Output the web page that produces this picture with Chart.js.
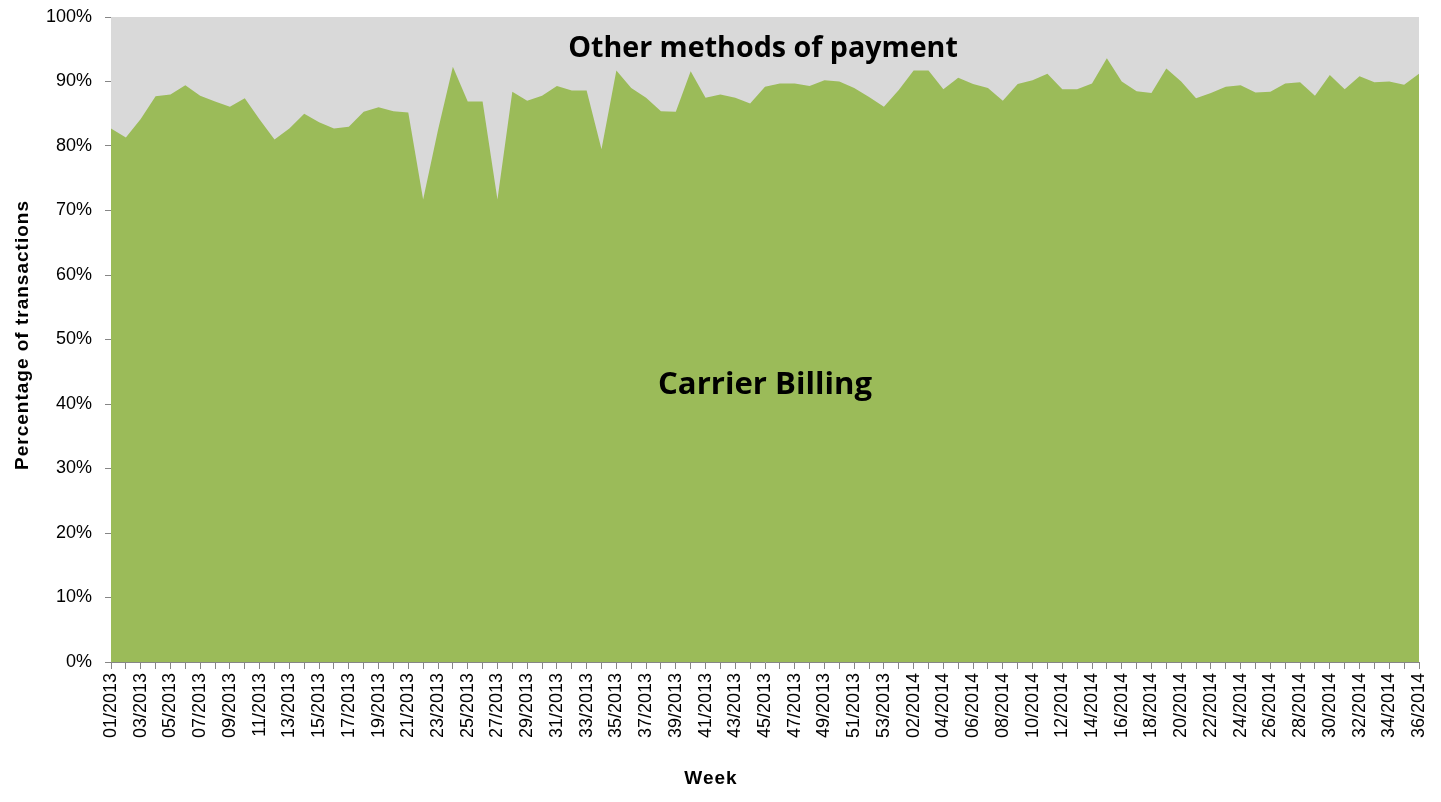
<!DOCTYPE html>
<html>
<head>
<meta charset="utf-8">
<script src="https://cdn.jsdelivr.net/npm/chart.js@4.4.1/dist/chart.umd.min.js"></script>
<style>
  html, body { margin: 0; padding: 0; background: #ffffff; }
  #wrap { width: 1441px; height: 802px; position: relative; }
  canvas { display: block; }
</style>
</head>
<body>
<div id="wrap"><canvas id="c" width="1441" height="802"></canvas></div>
<script>
// ---- Data ----
const weeks = [
  "01/2013","02/2013","03/2013","04/2013","05/2013","06/2013","07/2013","08/2013","09/2013","10/2013",
  "11/2013","12/2013","13/2013","14/2013","15/2013","16/2013","17/2013","18/2013","19/2013","20/2013",
  "21/2013","22/2013","23/2013","24/2013","25/2013","26/2013","27/2013","28/2013","29/2013","30/2013",
  "31/2013","32/2013","33/2013","34/2013","35/2013","36/2013","37/2013","38/2013","39/2013","40/2013",
  "41/2013","42/2013","43/2013","44/2013","45/2013","46/2013","47/2013","48/2013","49/2013","50/2013",
  "51/2013","52/2013","53/2013",
  "01/2014","02/2014","03/2014","04/2014","05/2014","06/2014","07/2014","08/2014","09/2014","10/2014",
  "11/2014","12/2014","13/2014","14/2014","15/2014","16/2014","17/2014","18/2014","19/2014","20/2014",
  "21/2014","22/2014","23/2014","24/2014","25/2014","26/2014","27/2014","28/2014","29/2014","30/2014",
  "31/2014","32/2014","33/2014","34/2014","35/2014","36/2014"
];

// Share of transactions paid via carrier billing (%)
const carrierBilling = [
  82.7, 81.3, 84.2, 87.7, 88.0, 89.4, 87.8, 86.9, 86.1, 87.4,
  84.1, 81.0, 82.7, 85.0, 83.7, 82.7, 83.0, 85.3, 86.0, 85.4,
  85.2, 71.7, 82.5, 92.3, 86.9, 86.9, 71.7, 88.4, 87.0, 87.8,
  89.3, 88.6, 88.6, 79.5, 91.7, 89.0, 87.5, 85.4, 85.3, 91.6,
  87.5, 88.0, 87.5, 86.6, 89.2, 89.7, 89.7, 89.3, 90.2, 90.0,
  89.0, 87.6, 86.1,
  88.7, 91.7, 91.7, 88.8, 90.6, 89.6, 89.0, 87.0, 89.6, 90.2,
  91.2, 88.8, 88.8, 89.7, 93.6, 90.0, 88.5, 88.2, 92.0, 90.0,
  87.4, 88.2, 89.2, 89.4, 88.3, 88.4, 89.7, 89.9, 87.8, 91.0,
  88.8, 90.8, 89.9, 90.0, 89.5, 91.2
];

// Remaining share: other methods of payment (complement to 100%)
const otherMethods = carrierBilling.map(v => Math.round((100 - v) * 10) / 10);

const yTicks = [0, 10, 20, 30, 40, 50, 60, 70, 80, 90, 100];

const seriesNames = ["Carrier Billing", "Other methods of payment"];
const axisTitleX = "Week";
const axisTitleY = "Percentage of transactions";

// ---- Styling ----
const GREEN = "#9BBB59";
const GREY = "#D9D9D9";
const AXIS = "#868686";
const TICK_FONT = "'Liberation Sans', Arial, sans-serif";
const LABEL_FONT = "'Open Sans', 'Noto Sans', sans-serif";

function fitSize(ctx, text, weight, family, targetWidth) {
  ctx.save();
  ctx.font = weight + " 100px " + family;
  const w = ctx.measureText(text).width;
  ctx.restore();
  return 100 * targetWidth / w;
}

const annotate = {
  id: "annotate",
  afterDraw(chart) {
    const ctx = chart.ctx;
    ctx.save();
    ctx.fillStyle = "#000";
    ctx.textAlign = "center";
    ctx.textBaseline = "alphabetic";

    // Series labels inside the areas
    let s = fitSize(ctx, seriesNames[1], "bold", LABEL_FONT, 390);
    ctx.font = "bold " + s + "px " + LABEL_FONT;
    ctx.fillText(seriesNames[1], 763, 57);

    s = fitSize(ctx, seriesNames[0], "bold", LABEL_FONT, 214);
    ctx.font = "bold " + s + "px " + LABEL_FONT;
    ctx.fillText(seriesNames[0], 765, 394);

    // Axis titles
    ctx.font = "bold 19px " + TICK_FONT;
    ctx.letterSpacing = "1px";
    ctx.textBaseline = "middle";
    ctx.fillText(axisTitleX, 711, 779);

    ctx.translate(23, 335);
    ctx.rotate(-Math.PI / 2);
    ctx.fillText(axisTitleY, 0, 0);
    ctx.restore();
  }
};

new Chart(document.getElementById("c"), {
  type: "line",
  data: {
    labels: weeks,
    datasets: [
      {
        label: seriesNames[0],
        data: carrierBilling,
        fill: "origin",
        backgroundColor: GREEN,
        borderColor: GREEN,
        borderWidth: 0,
        pointRadius: 0,
        tension: 0
      },
      {
        label: seriesNames[1],
        data: otherMethods,
        fill: "origin",
        backgroundColor: GREY,
        borderColor: GREY,
        borderWidth: 0,
        pointRadius: 0,
        tension: 0
      }
    ]
  },
  options: {
    responsive: false,
    animation: false,
    devicePixelRatio: 1,
    layout: { padding: { top: 17, right: 22, left: 0, bottom: 0 } },
    plugins: {
      legend: { display: false },
      tooltip: { enabled: false },
      title: { display: false }
    },
    scales: {
      x: {
        type: "category",
        offset: false,
        stacked: true,
        grid: {
          display: true,
          drawOnChartArea: false,
          drawTicks: true,
          tickLength: 7,
          color: AXIS
        },
        border: { display: true, color: AXIS, width: 1 },
        ticks: {
          autoSkip: false,
          maxRotation: 90,
          minRotation: 90,
          padding: 4,
          color: "#000",
          font: { size: 18, family: TICK_FONT },
          callback: (v, i) => (i % 2 === 0 ? weeks[i] : "")
        },
        afterFit: (scale) => {
          scale.height = 140;
          scale.paddingLeft = 0; scale.paddingRight = 0;
          scale.paddingTop = 0; scale.paddingBottom = 0;
        }
      },
      y: {
        stacked: true,
        min: 0,
        max: 100,
        grid: {
          display: true,
          drawOnChartArea: false,
          drawTicks: true,
          tickLength: 6,
          color: AXIS
        },
        border: { display: true, color: AXIS, width: 1 },
        afterBuildTicks: (scale) => { scale.ticks = yTicks.map(v => ({ value: v })); },
        ticks: {
          padding: 13,
          color: "#000",
          font: { size: 18, family: TICK_FONT },
          callback: (v) => v + "%"
        },
        afterFit: (scale) => {
          scale.width = 111;
          scale.paddingLeft = 0; scale.paddingRight = 0;
          scale.paddingTop = 0; scale.paddingBottom = 0;
        }
      }
    }
  },
  plugins: [annotate]
});
</script>
</body>
</html>
